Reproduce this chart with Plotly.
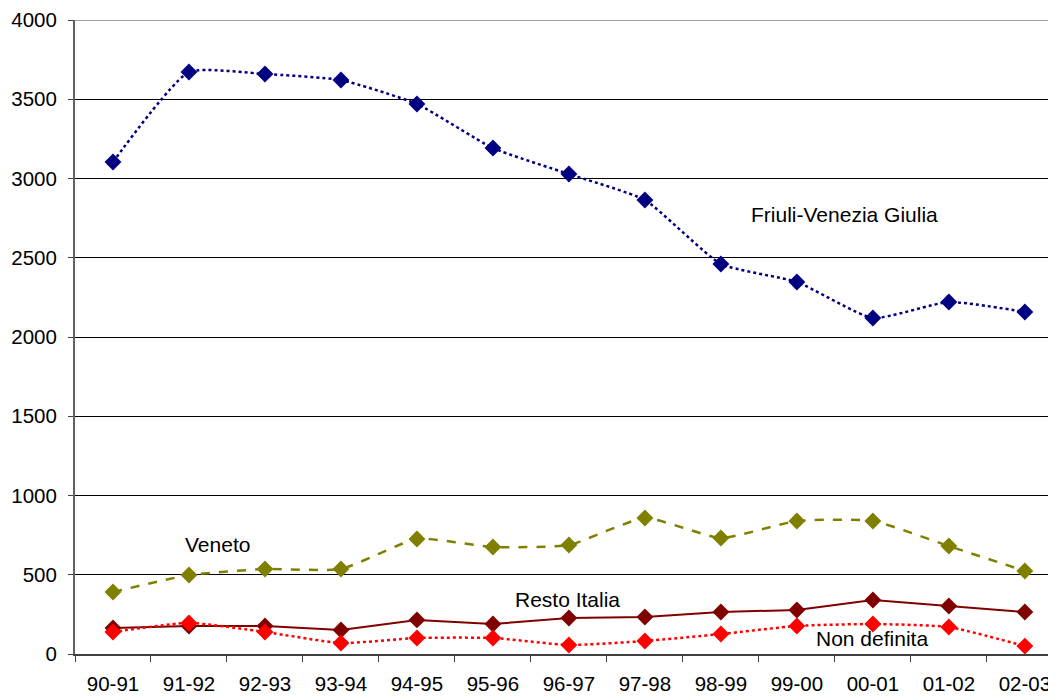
import plotly.graph_objects as go

categories = ["90-91", "91-92", "92-93", "93-94", "94-95", "95-96", "96-97",
              "97-98", "98-99", "99-00", "00-01", "01-02", "02-03"]
friuli = [3104, 3672, 3659, 3621, 3470, 3192, 3028, 2864, 2461, 2347, 2120, 2221, 2158]
veneto = [391, 498, 536, 536, 726, 675, 688, 858, 732, 839, 839, 681, 524]
resto = [164, 177, 177, 151, 215, 189, 227, 233, 265, 278, 341, 303, 265]
non_def = [139, 196, 139, 69, 101, 101, 57, 82, 126, 177, 189, 170, 50]

fig = go.Figure()

def add(y, color, dash, name, width=2, shape="linear"):
    line = dict(color=color, dash=dash, width=width, shape=shape)
    if shape == "spline":
        line["smoothing"] = 0.5
    fig.add_trace(go.Scatter(
        x=categories, y=y, name=name, mode="lines+markers",
        line=line,
        marker=dict(symbol="diamond", size=13, color=color),
        showlegend=False))

add(friuli, "#000080", "dot", "Friuli-Venezia Giulia", 2.5, "spline")
add(veneto, "#808000", "dash", "Veneto", 2.5, "spline")
add(resto, "#800000", "solid", "Resto Italia", 2)
add(non_def, "#FF0000", "dot", "Non definita", 2.5, "spline")

tick_font = dict(family="Liberation Sans, Arial, sans-serif", size=20.5, color="black")
ann_font = dict(family="Liberation Sans, Arial, sans-serif", size=21, color="black")
for txt, x, y in [("Friuli-Venezia Giulia", 9.625, 2773), ("Veneto", 1.375, 691),
                  ("Resto Italia", 5.987, 344), ("Non definita", 9.993, 95)]:
    fig.add_annotation(x=x, y=y, text=txt, showarrow=False, font=ann_font,
                       xanchor="center", yanchor="middle")

fig.update_layout(
    width=1048, height=690,
    margin=dict(l=67, r=0, t=12, b=44),
    paper_bgcolor="white", plot_bgcolor="white",
    font=tick_font,
    xaxis=dict(type="category", range=[-0.5, 12.41], showgrid=False,
               ticks="outside", tickson="boundaries", ticklen=6,
               tickcolor="#404040", showline=True, linecolor="#404040",
               linewidth=1.5, tickfont=tick_font, automargin=False,
               ticklabelstandoff=11),
    yaxis=dict(range=[0, 4000], tickvals=list(range(0, 4001, 500)),
               showgrid=True, gridcolor="black", gridwidth=1,
               ticks="outside", ticklen=5, tickcolor="#404040",
               showline=True, linecolor="#606060", linewidth=2,
               zeroline=False, tickfont=tick_font, automargin=False,
               ticklabelstandoff=7),
)
fig.add_shape(type="line", xref="paper", yref="y", x0=0, x1=1, y0=4000, y1=4000,
              line=dict(color="#a0a0a0", width=2))

fig.write_html("out.html")
